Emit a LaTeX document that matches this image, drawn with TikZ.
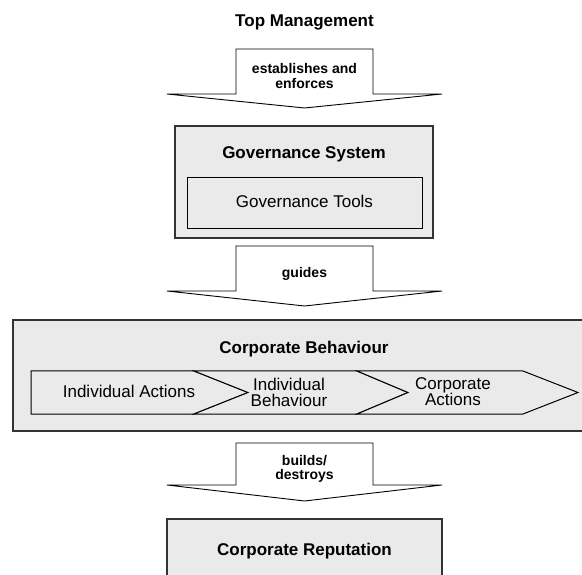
\documentclass[tikz,border=0pt]{standalone}
\usepackage{fontspec}
\setmainfont{Liberation Sans}
\definecolor{boxgray}{HTML}{EAEAEA}
\definecolor{edgegray}{HTML}{333333}
\tikzset{
  bigtext/.style={font=\fontsize{17}{16}\selectfont},
  arrowtext/.style={font=\fontsize{14}{14.5}\selectfont\bfseries, align=center},
  outerbox/.style={draw=edgegray, line width=1.3pt, fill=boxgray},
  innerbox/.style={draw=black, line width=1pt, fill=boxgray},
  bigarrow/.style={draw=black, line width=0.9pt, fill=white, line join=miter},
}
\begin{document}
\begin{tikzpicture}[x=1pt,y=-1pt]
  \useasboundingbox (0,0) rectangle (582,575);
  \clip (0,0) rectangle (582,575);

  \node[bigtext, font=\fontsize{17}{16}\selectfont\bfseries, anchor=base] (top) at (304.5,26.7) {Top Management};

  % first arrow
  \draw[bigarrow] (236,49) -- (373,49) -- (373,94) -- (442,94) -- (304.5,108)
    -- (167,94) -- (236,94) -- cycle;
  \node[arrowtext] (enforce) at (304.5,76) {establishes and\\enforces};

  % governance
  \draw[outerbox] (175,126) rectangle (433,238);
  \node[bigtext, font=\fontsize{17}{16}\selectfont\bfseries, anchor=base] (govsys) at (304,159) {Governance System};
  \draw[innerbox] (187,178) rectangle (422,229);
  \node[bigtext, anchor=base] (govtools) at (304.5,208) {Governance Tools};

  % second arrow
  \draw[bigarrow] (236,246) -- (373,246) -- (373,291) -- (442,291) -- (304.5,306)
    -- (167,291) -- (236,291) -- cycle;
  \node[arrowtext, anchor=base] (guides) at (304.5,278) {guides};

  % corporate behaviour
  \draw[outerbox] (13,320) rectangle (596,431);
  \node[bigtext, font=\fontsize{17}{16}\selectfont\bfseries, anchor=base] (behav) at (304,353) {Corporate Behaviour};
  \draw[innerbox] (31,371) -- (194,371) -- (248,392.5) -- (194,414) -- (31,414) -- cycle;
  \draw[innerbox] (194,371) -- (357,371) -- (408,392.5) -- (357,414) -- (194,414)
    -- (248,392.5) -- cycle;
  \draw[innerbox] (357,371) -- (523,371) -- (578,392.5) -- (523,414) -- (357,414)
    -- (408,392.5) -- cycle;
  \node[bigtext, anchor=base] (indact) at (129,398) {Individual Actions};
  \node[bigtext, align=center] (indbeh) at (289,392) {Individual\\Behaviour};
  \node[bigtext, align=center] (corpact) at (453,392) {Corporate\\Actions};

  % third arrow
  \draw[bigarrow] (236,443) -- (373,443) -- (373,485) -- (442,485) -- (304.5,501)
    -- (167,485) -- (236,485) -- cycle;
  \node[arrowtext] (builds) at (304.5,469) {builds/\\destroys};

  % reputation
  \draw[outerbox] (167,519) rectangle (442,590);
  \node[bigtext, font=\fontsize{17}{16}\selectfont\bfseries, anchor=base] (reput) at (304.5,555) {Corporate Reputation};
\end{tikzpicture}
\end{document}
